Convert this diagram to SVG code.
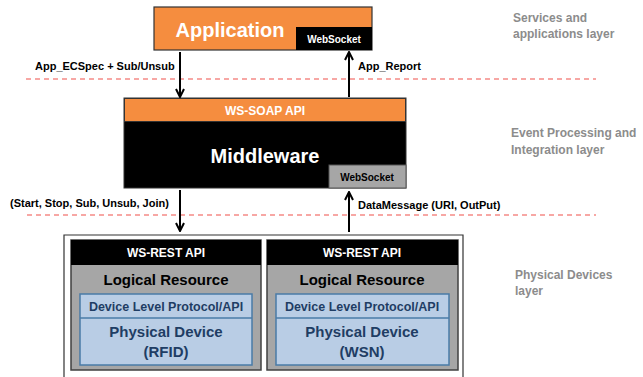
<svg xmlns="http://www.w3.org/2000/svg" width="643" height="377" viewBox="0 0 643 377">
<defs>
<style>
text{font-family:"Liberation Sans",Arial,sans-serif;font-weight:bold}
.w{fill:#fff}
.k{fill:#000}
.lay{fill:#8c8c8c;font-size:12px}
.lbl{font-size:11px;fill:#000}
.blue{fill:#b9cde5;stroke:#4a7ba7;stroke-width:1.5}
.bt{fill:#1f3d64}
.gray{fill:#a6a6a6;stroke:#404040;stroke-width:1.5}
.dash{stroke:#f0504a;stroke-width:1.2;stroke-dasharray:5 4;fill:none}
.arr{stroke:#000;stroke-width:2;fill:none;marker-end:url(#ah)}
</style>
<marker id="ah" viewBox="0 0 10 10" refX="9" refY="5" markerWidth="5" markerHeight="5" orient="auto" markerUnits="strokeWidth">
<path d="M1,1 L9,5 L1,9" fill="none" stroke="#000" stroke-width="2"/>
</marker>
</defs>

<g id="layers">
<text class="lay" x="513" y="22">Services and</text>
<text class="lay" x="513" y="38">applications layer</text>
<text class="lay" x="511" y="137">Event Processing and</text>
<text class="lay" x="511" y="154">Integration layer</text>
<text class="lay" x="515" y="279">Physical Devices</text>
<text class="lay" x="515" y="295">layer</text>
</g>

<g id="separators">
<line class="dash" x1="26" y1="79" x2="596" y2="79"/>
<line class="dash" x1="27" y1="215" x2="596" y2="215"/>
</g>

<g id="application">
<rect x="154" y="7" width="218" height="43" fill="#f58d3f" stroke="#333" stroke-width="1.2"/>
<rect x="296" y="27" width="76" height="23" fill="#000"/>
<text class="w" x="230" y="37" font-size="20" text-anchor="middle">Application</text>
<text class="w" x="334" y="43" font-size="10" text-anchor="middle">WebSocket</text>
</g>

<g id="middleware">
<rect x="124" y="98" width="282" height="90" fill="#000" stroke="#333" stroke-width="1"/>
<rect x="124.5" y="98.5" width="281" height="23" fill="#f58d3f" stroke="#333" stroke-width="1"/>
<text class="w" x="265" y="115" font-size="12" text-anchor="middle">WS-SOAP API</text>
<text class="w" x="265" y="163" font-size="20" text-anchor="middle">Middleware</text>
<rect x="329" y="165" width="77" height="23" fill="#a6a6a6" stroke="#555" stroke-width="1"/>
<text class="k" x="367" y="181" font-size="10" text-anchor="middle">WebSocket</text>
</g>

<g id="physical-layer">
<path d="M64,377 V235 H463 V377" fill="none" stroke="#333" stroke-width="1.2"/>
</g>

<g id="rfid-node">
<rect class="gray" x="71" y="240" width="190" height="130"/>
<rect x="71" y="240" width="190" height="25" fill="#000"/>
<text class="w" x="166" y="257" font-size="12" text-anchor="middle">WS-REST API</text>
<text class="k" x="166" y="285" font-size="15" text-anchor="middle">Logical Resource</text>
<rect class="blue" x="80" y="294" width="172" height="71"/>
<line x1="80" y1="318" x2="252" y2="318" stroke="#4a7ba7" stroke-width="1.5"/>
<text class="bt" x="166" y="310.5" font-size="12.5" text-anchor="middle">Device Level Protocol/API</text>
<text class="bt" x="166" y="337" font-size="15" text-anchor="middle">Physical Device</text>
<text class="bt" x="166" y="357" font-size="15" text-anchor="middle">(RFID)</text>
</g>

<g id="wsn-node">
<rect class="gray" x="267" y="240" width="191" height="130"/>
<rect x="267" y="240" width="191" height="25" fill="#000"/>
<text class="w" x="362" y="257" font-size="12" text-anchor="middle">WS-REST API</text>
<text class="k" x="362" y="285" font-size="15" text-anchor="middle">Logical Resource</text>
<rect class="blue" x="276" y="294" width="173" height="71"/>
<line x1="276" y1="318" x2="449" y2="318" stroke="#4a7ba7" stroke-width="1.5"/>
<text class="bt" x="362" y="310.5" font-size="12.5" text-anchor="middle">Device Level Protocol/API</text>
<text class="bt" x="362" y="337" font-size="15" text-anchor="middle">Physical Device</text>
<text class="bt" x="362" y="357" font-size="15" text-anchor="middle">(WSN)</text>
</g>

<g id="connectors">
<line class="arr" x1="180" y1="52" x2="180" y2="97"/>
<line class="arr" x1="349" y1="97" x2="349" y2="52"/>
<line class="arr" x1="180" y1="190" x2="180" y2="231"/>
<line class="arr" x1="349" y1="232" x2="349" y2="192"/>
<text class="lbl" x="35" y="70">App_ECSpec + Sub/Unsub</text>
<text class="lbl" x="358" y="70">App_Report</text>
<text class="lbl" x="10" y="207" font-size="11.3">(Start, Stop, Sub, Unsub, Join)</text>
<text class="lbl" x="358" y="209" font-size="11.5">DataMessage (URI, OutPut)</text>
</g>
</svg>
